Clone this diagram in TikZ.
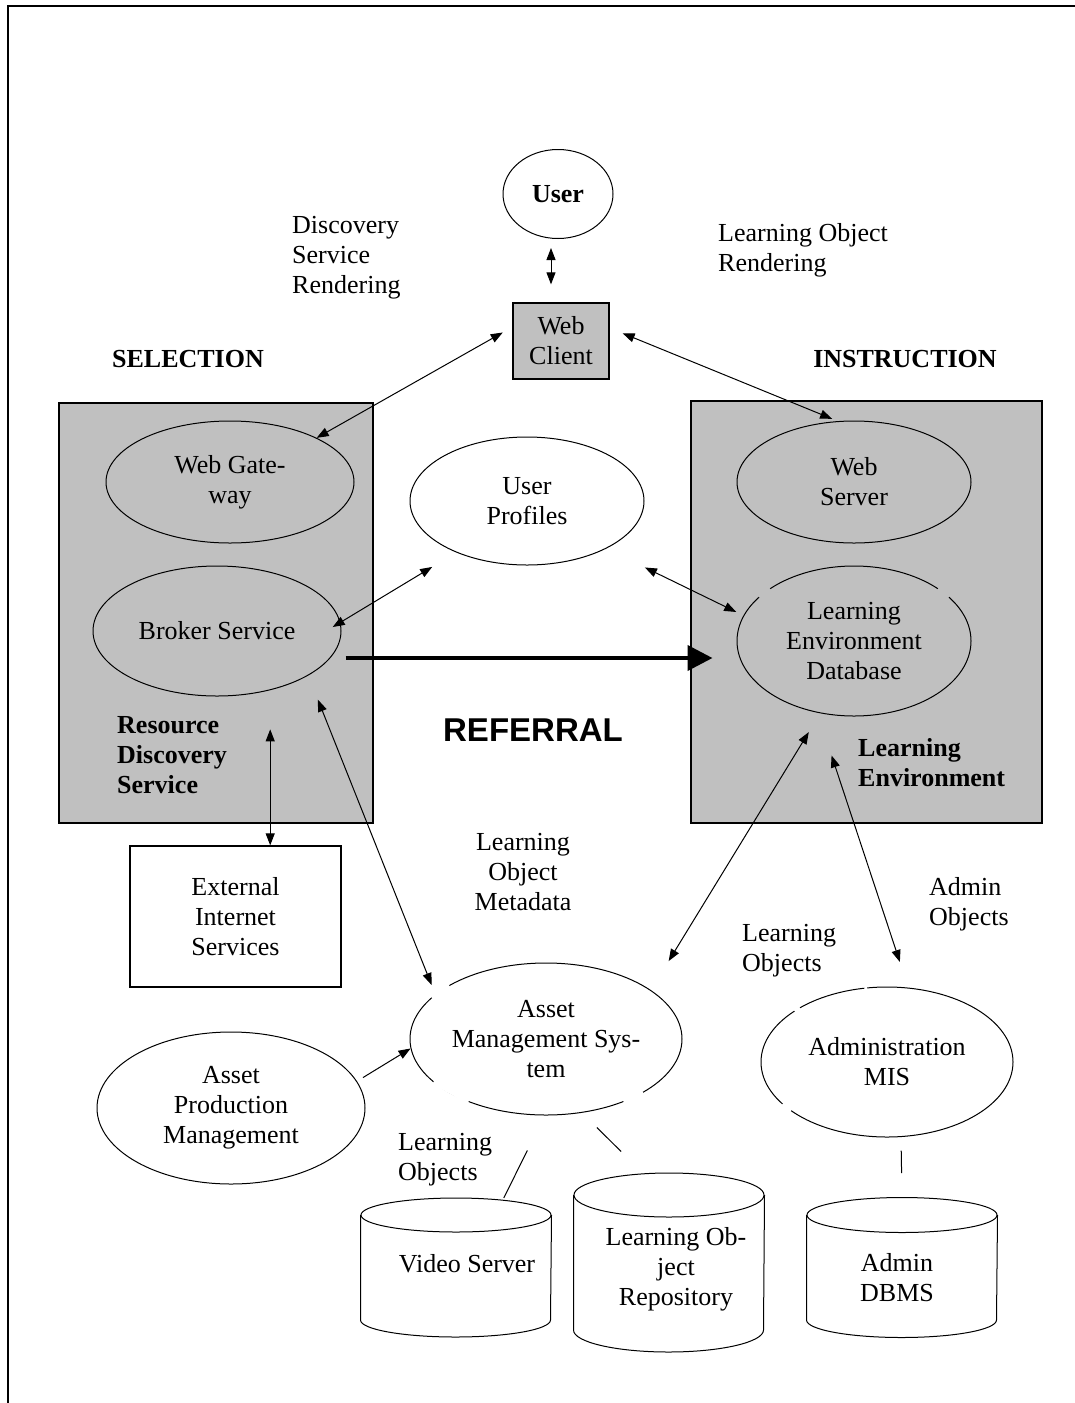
\documentclass[tikz,border=0pt]{standalone}
\usepackage{fontspec}
\setmainfont{Liberation Serif}
\newfontfamily\refsans{Liberation Sans}
\usetikzlibrary{shapes.geometric,arrows.meta}
\definecolor{boxgray}{RGB}{192,192,192}
\tikzset{
  every node/.style={font=\fontsize{26}{30}\selectfont, inner sep=0pt},
  oval/.style={draw, ellipse, line width=1pt, align=center},
  grayoval/.style={oval, fill=boxgray},
  area/.style={draw, rectangle, fill=boxgray, line width=1.3pt, align=center},
  lab/.style={anchor=west, align=left},
  boldlab/.style={font=\fontsize{26}{30}\selectfont\bfseries},
  link/.style={line width=1pt, >={Triangle[length=12pt,width=9pt]}},
  gapw/.style={white, line width=4pt},
  gapg/.style={boxgray, line width=4pt},
}
\begin{document}
\begin{tikzpicture}[x=1pt,y=-1pt]
  \useasboundingbox (0,0) rectangle (1075,1403);
  \draw[line width=2pt] (8,1403) -- (8,6) -- (1075,6);

  \node[area, minimum width=314pt, minimum height=420pt] (rds) at (216,613) {};
  \node[area, minimum width=351pt, minimum height=422pt] (leb) at (866.5,612) {};

  \node[oval, boldlab, minimum width=110pt, minimum height=89pt] (user) at (558,194) {User};
  \node[area, minimum width=96pt, minimum height=76pt] (client) at (561,341) {Web\\Client};
  \node[grayoval, minimum width=248pt, minimum height=122pt] (gw) at (230,482) {Web Gate-\\way};
  \node[grayoval, minimum width=248pt, minimum height=130pt] (broker) at (217,631) {Broker Service};
  \node[oval, minimum width=234pt, minimum height=128pt] (up) at (527,501) {User\\Profiles};
  \node[grayoval, minimum width=234pt, minimum height=122pt] (ws) at (854,482) {Web\\Server};
  \node[grayoval, minimum width=234pt, minimum height=150pt] (ledb) at (854,641) {Learning\\Environment\\Database};
  \node[draw, line width=1.3pt, align=center, minimum width=211pt, minimum height=141pt] (ext) at (235.5,916.5) {External\\Internet\\Services};
  \node[oval, minimum width=272pt, minimum height=152pt] (ams) at (546,1039) {Asset\\Management Sys-\\tem};
  \node[oval, minimum width=268pt, minimum height=152pt] (apm) at (231,1108) {Asset\\Production\\Management};
  \node[oval, minimum width=252pt, minimum height=150pt] (mis) at (887,1062) {Administration\\MIS};

  % databases
  \foreach \nm/\cx/\cy/\ry/\len in {vstop/456/1215/17/105, lortop/669/1195/22/135, dbtop/902/1215/17.5/105} {
    \node[oval, minimum width=190pt, minimum height={2*\ry*1pt}] (\nm) at (\cx,\cy) {};
    \draw[line width=1pt] (\nm.west) -- ++(0,\len) arc[start angle=180, end angle=360, x radius=95pt, y radius=\ry*1pt] -- (\nm.east);
  }
  \node (vs) at (467,1264) {Video Server};
  \node[align=center] (lor) at (676,1269) {Learning Ob-\\ject\\Repository};
  \node[align=center] (dbms) at (897,1278) {Admin\\DBMS};

  \node[boldlab] (selLab) at (188,359) {SELECTION};
  \node[boldlab] (insLab) at (905,359) {INSTRUCTION};
  \node[lab] (dsrLab) at (292,258) {Discovery\\Service\\Rendering};
  \node[lab] (lorLab) at (718,250) {Learning Object\\Rendering};
  \node[lab, boldlab] (rdsLab) at (117,755) {Resource\\Discovery\\Service};
  \node[lab, boldlab] (lenvLab) at (858,763) {Learning\\Environment};
  \node[font=\refsans\fontsize{33}{36}\selectfont\bfseries] (refLab) at (533,730) {REFERRAL};
  \node[align=center] (metaLab) at (523,872) {Learning\\Object\\Metadata};
  \node[lab] (loLabR) at (742,951) {Learning\\Objects};
  \node[lab] (adminLab) at (929,904) {Admin\\Objects};
  \node[lab] (loLabL) at (398,1160) {Learning\\Objects};

  % breaks in the outlines
  \draw[gapw] (ams.151) -- (ams.160);
  \draw[gapw] (ams.201) -- (ams.219);
  \draw[gapw] (ams.-39) -- (ams.-29);
  \draw[gapg] (ledb.148) -- (ledb.155);
  \draw[gapg] (ledb.25) -- (ledb.32);
  \draw[gapw] (mis.105) -- (mis.107);
  \draw[gapw] (mis.148) -- (mis.151);
  \draw[gapw] (mis.202) -- (mis.207);

  \draw[link,<->,shorten <=9pt,shorten >=18pt] ([xshift=-7pt]user.south) -- ([xshift=-10pt]client.north);
  \draw[link,<->,shorten <=11pt] (client.164) -- (gw.27);
  \draw[link,<->,shorten <=14pt,shorten >=6pt] (client.15) -- (ws.105);
  \draw[link,<->,shorten <=-9pt,shorten >=28pt] (broker.4) -- (up.216);
  \draw[link,<->,shorten <=43pt,shorten >=8pt] (up.-31) -- (ledb.167);
  \draw[line width=4pt,-{Triangle[length=25pt,width=25pt]}] ([xshift=4pt,yshift=-27pt]broker.east) -- ([xshift=-24pt,yshift=-17pt]ledb.west);
  \draw[link,<->] (ext.64) -- ++(0,-116);
  \draw[link,<->,shorten <=26pt,shorten >=10pt] (broker.-26) -- (ams.158);
  \draw[link,<->,shorten <=34pt,shorten >=22pt] (ams.25) -- (ledb.-115);
  \draw[link,<->,shorten <=45pt,shorten >=27pt] (ledb.-117) -- (mis.74);
  \draw[link,->,shorten <=7pt] (apm.12) -- (ams.184);
  \draw[line width=1pt,shorten <=39pt,shorten >=2pt] (ams.-91) -- (vstop.18);
  \draw[line width=1pt,shorten <=21pt,shorten >=31pt] (ams.-64) -- (lortop.140);
  \draw[line width=1pt,shorten <=13pt,shorten >=24pt] ([xshift=14pt]mis.south) -- (dbtop.north);
\end{tikzpicture}
\end{document}
